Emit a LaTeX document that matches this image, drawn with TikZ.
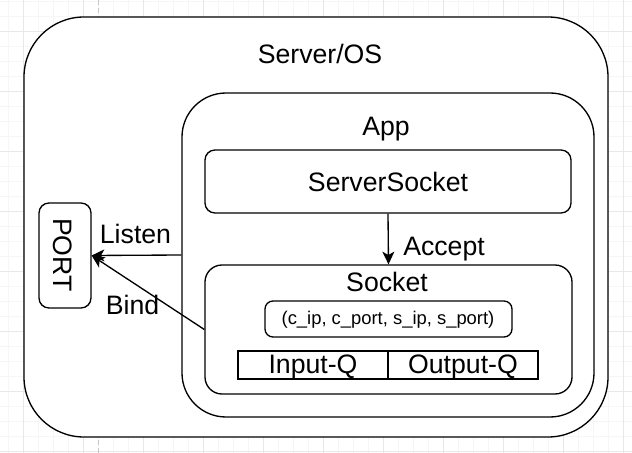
\documentclass[tikz,border=0pt]{standalone}
\usepackage{fontspec}
\setmainfont{Liberation Sans}
\usetikzlibrary{arrows.meta}

\tikzset{
  box/.style={draw, line width=1pt, fill=white, inner sep=0pt},
  conn/.style={draw, line width=1pt, -{Stealth[length=9.5pt, width=9pt, inset=2.5pt]}},
  big/.style={font=\fontsize{20}{24}\selectfont, inner sep=0pt},
  small/.style={font=\fontsize{13.8}{16}\selectfont, inner sep=0pt},
  gridminor/.style={gray!7, line width=0.75pt},
  gridmajor/.style={gray!18, line width=0.75pt}
}

\begin{document}
\begin{tikzpicture}[x=0.75pt, y=-0.75pt]
\useasboundingbox[fill=white] (0,0) rectangle (632,453);

% background grid
\foreach \gx in {8,23,...,623} \draw[gridminor] (\gx,0) -- (\gx,453);
\foreach \gy in {1.7,16.7,...,452} \draw[gridminor] (0,\gy) -- (632,\gy);
\foreach \gx in {23,83,...,623} \draw[gridmajor] (\gx,0) -- (\gx,453);
\foreach \gy in {31.7,91.7,...,452} \draw[gridmajor] (0,\gy) -- (632,\gy);
\draw[gray!45, line width=0.75pt, dash pattern=on 4pt off 2pt] (98,0) -- (98,453);

% outer boxes
\draw (316, 227) node[box, minimum width=438pt, minimum height=315pt,
  rounded corners=45pt] (server) {};
\draw (320, 63.3) node[big, anchor=base] (serverlbl) {Server/OS};

\draw (388, 255) node[box, minimum width=309pt, minimum height=243pt,
  rounded corners=33pt] (app) {};
\draw (386, 136) node[big, anchor=base] (applbl) {App};

\draw (388, 181.5) node[box, big, minimum width=274.5pt, minimum height=47.25pt,
  rounded corners=7.5pt] (ssock) {ServerSocket};

% socket
\draw (388.5, 329.5) node[box, minimum width=275.25pt, minimum height=96.75pt,
  rounded corners=12.75pt] (sock) {};
\draw (387, 291.7) node[big, anchor=base] (socklbl) {Socket};

\draw (388.5, 319) node[box, minimum width=185.25pt, minimum height=27pt,
  rounded corners=6pt] (tuple) {};
\draw (388, 324.5) node[small, anchor=base] (tuplelbl) {(c\_ip, c\_port, s\_ip, s\_port)};

\draw (313, 365) node[box, minimum width=112.5pt, minimum height=21pt] (inq) {};
\draw (313, 373.5) node[big, anchor=base] (inqlbl) {Input-Q};
\draw (463, 365) node[box, minimum width=112.5pt, minimum height=21pt] (outq) {};
\draw (463, 373.5) node[big, anchor=base] (outqlbl) {Output-Q};

% port
\draw (65, 255.5) node[box, minimum width=39pt, minimum height=78.75pt,
  rounded corners=7.5pt] (port) {};
\draw (62.5, 255) node[big, rotate=-90] (portlbl) {PORT};

% connectors
\draw[conn] (app.west) -- (port.east);
\draw[conn] (sock.west) -- (port.east);
\draw[conn] (ssock.south) -- (sock.north);
\draw (135.5, 243.3) node[big, anchor=base] (listenlbl) {Listen};
\draw (132.5, 314) node[big, anchor=base] (bindlbl) {Bind};
\draw (403, 255) node[big, anchor=base west] (acceptlbl) {Accept};
\end{tikzpicture}
\end{document}
